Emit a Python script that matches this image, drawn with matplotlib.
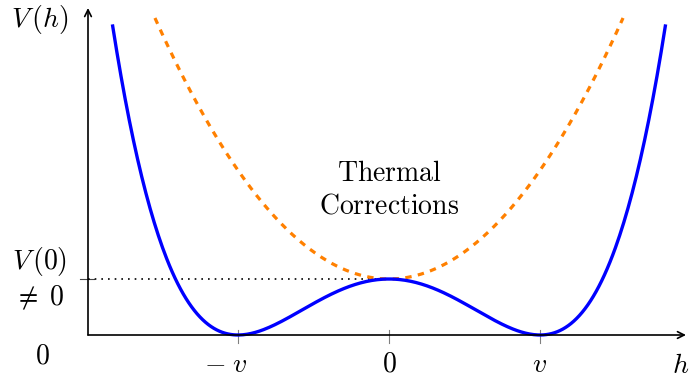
import numpy as np
import matplotlib.pyplot as plt

plt.rcParams['mathtext.fontset'] = 'cm'

# curve parameters (units: h in v, V in V(0))
v = 1.0
V0 = 1.0
h_blue = np.linspace(-1.83, 1.83, 400)
h_orange = np.linspace(-1.55, 1.55, 400)
curv_orange = 1.94

V_blue = V0 * ((h_blue / v) ** 2 - 1) ** 2
V_orange = V0 + curv_orange * h_orange ** 2

tick_pos = [-v, 0, v]
tick_labels = [r"$-\;v$", r"$0$", r"$v$"]
label_shift = [-12 / 151, 0, 0]

fs = 20

fig = plt.figure(figsize=(6.9, 3.78), dpi=100)
ax = fig.add_axes([0, 0, 1, 1])
ax.set_xlim(-389 / 151, 301 / 151)
ax.set_ylim(-43 / 56, 335 / 56)
ax.axis('off')

x0 = -301 / 151
# axes with arrows
ax.annotate('', xy=(297 / 151, 0), xytext=(x0, 0),
            arrowprops=dict(arrowstyle='->', lw=1.2, color='black',
                            shrinkA=0, shrinkB=0, mutation_scale=12))
ax.annotate('', xy=(x0, 327 / 56), xytext=(x0, 0),
            arrowprops=dict(arrowstyle='->', lw=1.2, color='black',
                            shrinkA=0, shrinkB=0, mutation_scale=12))

# ticks on h axis
for t in tick_pos:
    ax.plot([t, t], [-8 / 56, 5 / 56], color='gray', lw=0.8)
for t, lab, s in zip(tick_pos, tick_labels, label_shift):
    ax.text(t + s, -29 / 56, lab, ha='center', va='center', fontsize=fs)

# V(0) level
ax.plot([x0 - 8 / 151, x0 + 6 / 151], [V0, V0], color='#444444', lw=0.8)
ax.plot([x0, 0], [V0, V0], color='black', lw=1.2, linestyle=(0, (1, 3)))

ax.plot(h_orange, V_orange, color='#ff8000', lw=2.3, linestyle=(0, (2, 2.0)))
ax.plot(h_blue, V_blue, color='#0000ff', lw=2.4)

ax.text(-349 / 151, 315 / 56, r"$V\,(h)$", ha='center', va='center', fontsize=fs)
ax.text(-349 / 151, 73 / 56, r"$V\,(0)$", ha='center', va='center', fontsize=fs)
ax.text(-350 / 151, 37 / 56, r"$\neq\;0$", ha='center', va='center', fontsize=fs)
ax.text(-347 / 151, -20 / 56, r"$0$", ha='center', va='center', fontsize=fs)
ax.text(292 / 151, -30 / 56, r"$h$", ha='center', va='center', fontsize=fs)

ax.text(0, 162 / 56, r"$\mathrm{Thermal}$", ha='center', va='center', fontsize=fs)
ax.text(0, 130 / 56, r"$\mathrm{Corrections}$", ha='center', va='center', fontsize=fs)

fig.savefig('out.png', dpi=100)
